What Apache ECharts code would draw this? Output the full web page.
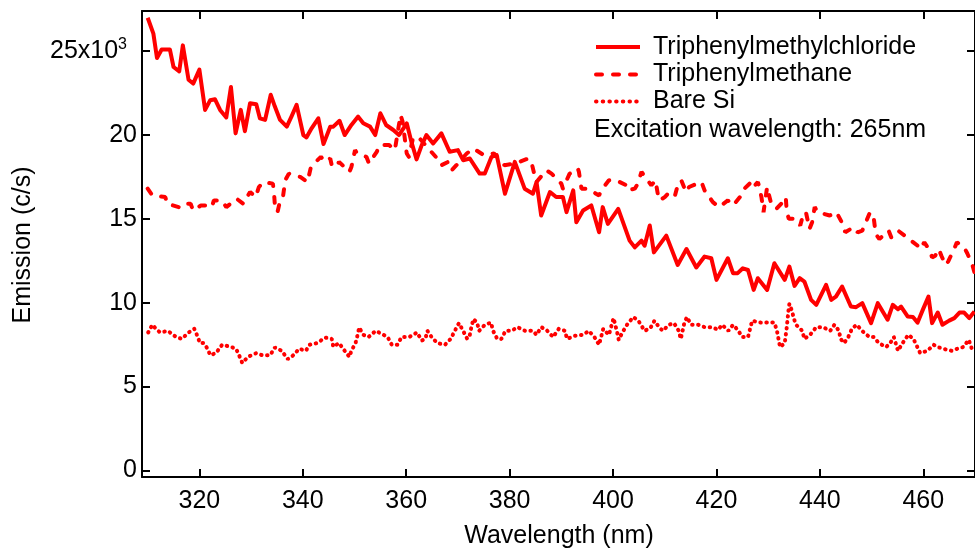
<!DOCTYPE html>
<html>
<head>
<meta charset="utf-8">
<script src="https://cdn.jsdelivr.net/npm/echarts@6/dist/echarts.min.js"></script>
<style>
html,body{margin:0;padding:0;background:#fff;}
#chart{width:975px;height:548px;}
</style>
</head>
<body>
<div id="chart"></div>
<script>
// Wavelength (nm) and emission (x10^3 c/s)
const seriesNames = ['Triphenylmethylchloride', 'Triphenylmethane', 'Bare Si'];
const xTicks = [320, 340, 360, 380, 400, 420, 440, 460];
const yTicks = [0, 5, 10, 15, 20, 25];

const solidWl = [310.0,311.1,311.8,312.7,314.3,315.0,316.1,316.8,317.9,318.8,320.0,321.1,322.1,323.0,324.0,325.2,326.1,327.0,328.0,328.8,329.8,331.0,331.7,332.7,333.8,334.6,335.6,336.9,337.8,338.8,340.1,340.7,341.7,343.0,344.0,345.3,345.9,347.1,348.1,349.4,350.7,351.7,353.0,354.0,355.0,356.1,357.5,358.6,360.1,361.0,362.0,363.0,363.9,365.2,366.8,368.4,370.0,371.0,372.3,374.2,375.2,376.5,377.5,379.1,381.0,382.9,384.5,385.2,386.1,387.8,389.0,390.3,391.0,392.3,392.9,394.2,395.8,397.3,398.0,399.0,401.0,403.2,404.2,405.5,406.1,407.1,407.9,410.3,412.5,414.2,416.1,417.7,419.0,420.0,422.2,423.2,424.1,425.1,426.1,427.2,428.0,429.8,431.2,433.2,434.1,435.1,436.1,437.0,438.3,439.3,441.2,442.2,443.1,444.3,446.0,447.0,448.2,449.9,451.2,453.1,454.1,455.1,455.7,457.0,458.0,458.9,459.9,461.0,461.7,462.8,463.7,465.0,466.0,467.0,467.9,468.9,469.9];
const solidVal = [27.0,26.05,24.6,25.1,25.1,24.06,23.8,25.35,23.3,23.07,23.9,21.5,22.08,22.14,21.5,21.05,22.87,20.1,21.5,20.23,21.9,21.84,21.0,20.9,22.4,21.7,20.9,20.5,21.1,21.8,20.0,19.86,20.4,21.0,19.46,20.5,20.5,20.85,20.0,20.6,21.1,20.7,20.5,20.0,21.3,20.6,20.3,20.0,20.7,19.6,18.55,19.4,20.0,19.5,20.1,19.0,19.1,18.5,18.6,17.7,17.7,18.7,18.8,16.5,18.4,16.8,16.5,17.2,15.2,16.6,16.3,16.3,15.4,16.7,14.8,15.5,15.8,14.2,15.7,14.7,15.6,13.7,13.3,13.7,13.4,14.6,13.0,14.0,12.25,13.2,12.1,12.75,12.65,11.36,12.65,11.76,11.76,12.05,11.95,10.76,11.46,10.76,12.35,11.36,12.15,11.0,11.46,11.26,10.17,9.87,11.06,10.17,10.36,10.96,9.77,9.73,9.97,8.78,9.97,8.98,9.87,9.61,9.77,9.17,9.14,8.81,9.57,10.36,8.78,9.41,8.68,8.93,9.08,9.41,9.41,9.08,9.47];

const dashWl = [310.0,310.9,313.4,313.8,316.0,316.6,318.3,318.8,320.3,321.7,322.4,322.8,324.3,325.2,327.2,328.5,329.8,330.9,331.5,332.4,334.2,334.4,334.6,335.1,335.7,336.2,336.6,337.3,339.5,340.9,341.5,342.2,343.5,344.3,345.3,345.6,346.5,347.0,349.0,349.4,350.1,350.5,352.3,352.8,354.3,354.9,356.7,357.8,358.9,359.3,360.1,360.5,361.3,362.3,364.0,366.0,366.8,368.1,368.8,369.7,371.7,373.0,375.0,377.0,379.0,381.0,383.6,384.2,384.9,385.2,387.1,388.1,390.0,390.3,391.6,392.6,393.2,393.4,393.9,395.0,397.3,397.7,399.2,400.6,402.6,402.9,404.2,404.6,405.1,405.5,407.4,408.2,408.7,409.0,410.0,410.6,411.3,411.9,412.5,413.2,414.1,414.7,417.1,417.7,419.3,420.5,422.2,423.2,424.8,425.4,426.4,426.9,428.0,428.2,428.7,429.1,429.8,430.0,430.6,431.6,432.5,433.4,433.6,434.0,435.3,436.2,436.8,437.3,438.0,438.5,439.0,439.6,441.9,443.2,444.4,444.9,446.5,447.3,448.2,448.9,449.7,450.4,450.8,451.5,453.3,453.8,455.1,456.4,458.9,459.2,459.6,460.2,461.3,461.7,462.3,463.0,463.5,464.3,464.8,466.1,466.5,467.9,468.5,469.5,470.0];
const dashVal = [16.8,16.4,16.3,15.9,15.7,15.9,15.9,15.5,15.8,15.8,15.7,16.1,16.1,15.7,16.2,15.9,16.6,16.3,16.9,17.2,17.1,16.7,15.8,15.4,16.2,16.4,17.3,17.7,17.5,17.2,18.0,18.3,18.7,18.4,18.6,18.2,18.1,18.4,17.8,18.1,19.1,18.9,18.7,18.3,19.0,19.4,19.4,19.1,21.2,20.8,18.9,18.7,19.8,19.9,19.3,18.6,18.2,18.4,17.9,18.2,18.9,19.2,18.8,18.9,18.2,18.3,18.6,18.4,17.5,17.2,17.9,17.7,17.1,16.8,17.7,17.8,18.0,17.8,16.8,16.8,16.4,16.7,17.3,17.3,17.0,16.7,16.8,17.0,17.4,17.8,17.0,17.3,16.4,16.1,16.3,16.5,16.4,16.3,17.0,17.3,16.6,16.9,17.2,16.7,16.0,15.7,16.1,15.8,16.4,16.8,17.1,16.8,17.2,17.0,16.3,15.4,16.9,16.6,15.9,15.6,15.9,16.3,15.4,15.0,15.0,14.6,15.3,15.4,14.4,14.8,15.7,15.4,15.2,15.4,14.7,14.2,14.5,14.2,14.3,14.8,15.4,15.1,14.1,13.8,14.3,13.9,14.3,14.0,13.4,13.2,13.3,13.6,13.1,12.7,12.8,13.2,12.8,12.25,12.45,13.3,13.6,13.3,12.95,12.25,11.7];

const dotWl = [310.1,310.9,311.6,312.4,313.9,315.5,316.6,317.9,319.0,319.6,320.1,320.8,321.5,322.1,323.2,324.4,326.0,327.1,327.8,328.3,329.4,331.0,332.1,333.7,334.6,335.9,337.1,338.2,339.3,340.6,341.3,342.8,344.3,345.6,345.9,347.0,347.8,349.0,349.4,350.2,350.6,350.9,351.7,352.7,354.1,355.6,356.4,357.2,358.3,359.1,360.6,362.1,363.0,363.7,364.1,364.9,366.0,367.5,368.6,369.4,370.2,371.0,371.8,372.3,372.6,373.0,373.7,374.1,375.2,376.4,376.8,377.6,378.4,379.2,380.4,381.5,383.0,384.5,385.2,386.1,387.1,388.4,389.5,390.7,391.1,392.6,394.2,395.3,396.4,397.3,398.1,399.2,400.1,400.8,401.1,401.8,402.7,403.9,404.9,406.1,407.2,408.0,408.9,409.6,410.8,411.8,412.7,413.1,413.8,414.3,415.1,416.5,417.7,419.2,420.3,421.1,422.3,423.2,424.1,425.0,426.1,426.9,428.6,430.1,431.2,431.7,432.3,433.2,433.6,433.9,434.1,434.6,435.0,435.4,436.6,437.0,438.1,439.3,440.6,442.0,442.8,443.7,444.0,444.7,445.5,446.2,447.1,448.5,449.6,450.4,451.4,452.8,453.6,454.3,455.1,456.0,457.1,458.1,459.4,460.8,462.0,462.8,464.1,465.5,466.4,467.7,468.8,469.4];
const dotVal = [8.22,8.68,8.44,8.22,8.32,7.95,7.84,8.22,8.44,8.02,7.59,7.59,7.29,6.87,6.99,7.49,7.37,7.25,6.77,6.4,6.77,6.99,6.87,6.87,7.33,7.13,6.63,6.87,7.25,7.13,7.49,7.59,7.92,7.84,7.37,7.59,7.25,6.77,7.13,7.59,8.08,8.52,8.08,7.95,8.32,8.08,7.95,7.49,7.49,7.95,7.95,8.22,7.74,7.84,8.32,7.95,7.59,7.49,7.84,8.32,8.78,8.32,7.84,8.08,8.54,9.02,8.81,8.32,8.68,8.81,8.32,7.84,7.84,8.32,8.32,8.54,8.32,8.32,8.08,8.54,8.38,7.95,8.44,8.32,7.84,8.02,8.08,8.32,7.95,7.49,8.44,8.08,9.08,8.22,7.78,8.22,8.68,9.14,8.92,8.32,8.48,8.92,8.54,8.32,8.68,8.78,8.32,7.84,8.81,9.14,8.68,8.68,8.54,8.54,8.38,8.68,8.32,8.68,8.38,7.95,7.95,8.92,8.81,8.81,8.81,8.32,7.35,7.59,8.54,9.47,9.93,9.51,9.02,8.68,8.32,7.84,8.08,8.54,8.54,8.32,8.68,8.32,7.84,7.59,7.95,8.44,8.68,8.22,7.95,7.95,7.59,7.35,7.59,7.95,7.13,7.59,8.08,7.84,6.99,7.13,7.49,7.35,7.23,7.13,7.23,7.35,7.78,7.23];

const FONT = '"Liberation Sans", Arial, Helvetica, sans-serif';
const RED = '#ff0000';
const pairs = (xs, ys) => xs.map((x, i) => [x, ys[i]]);

const X_MIN = 308.9, X_MAX = 470, Y_MIN = -0.4, Y_MAX = 27.4;

const styles = [
  { width: 4, type: 'solid', cap: 'butt' },
  { width: 4, type: [6, 11], cap: 'round' },
  { width: 4, type: [0.5, 5.5], cap: 'round' }
];
const legendDash = [null, [6, 11], [0.5, 6.2]];

function xAxisCfg(pos, showLabels) {
  return {
    type: 'value', position: pos, min: X_MIN, max: X_MAX,
    axisLine: { show: true, onZero: false, lineStyle: { color: '#000', width: 2 } },
    axisTick: { show: true, inside: true, length: 8, customValues: xTicks, lineStyle: { color: '#000', width: 2 } },
    axisLabel: { show: showLabels, customValues: xTicks, margin: 12, color: '#000', fontSize: 25, fontFamily: FONT },
    splitLine: { show: false }
  };
}
function yAxisCfg(pos, showLabels) {
  return {
    type: 'value', position: pos, min: Y_MIN, max: Y_MAX,
    axisLine: { show: true, onZero: false, lineStyle: { color: '#000', width: 2 } },
    axisTick: { show: true, inside: true, length: 8, customValues: yTicks, lineStyle: { color: '#000', width: 2 } },
    axisLabel: {
      show: showLabels, customValues: yTicks, margin: 5, color: '#000', fontSize: 25, fontFamily: FONT,
      formatter: v => v === 25 ? '{b|25x10}{s|3}' : String(v),
      rich: {
        b: { fontSize: 25, fontFamily: FONT, color: '#000' },
        s: { fontSize: 16, fontFamily: FONT, color: '#000', verticalAlign: 'top', padding: [0, 10, 14, 0] }
      }
    },
    splitLine: { show: false }
  };
}

// legend drawn as graphic elements (line sample + label)
const legendRowsY = [47, 74.5, 101.5];
const legendGraphics = [];
seriesNames.forEach((name, i) => {
  legendGraphics.push({
    type: 'line', shape: { x1: 596, y1: legendRowsY[i], x2: 640, y2: legendRowsY[i] },
    style: { stroke: RED, lineWidth: styles[i].width, lineDash: legendDash[i], lineCap: styles[i].cap }
  });
  legendGraphics.push({
    type: 'text', x: 653, y: legendRowsY[i],
    style: { text: name, fill: '#000', font: '25px ' + FONT, verticalAlign: 'middle' }
  });
});

const chart = echarts.init(document.getElementById('chart'), null, { renderer: 'canvas' });
chart.setOption({
  animation: false,
  backgroundColor: '#fff',
  grid: { left: 142, top: 11, width: 834, height: 466, containLabel: false },
  xAxis: [xAxisCfg('bottom', true), xAxisCfg('top', false)],
  yAxis: [yAxisCfg('left', true), yAxisCfg('right', false)],
  graphic: legendGraphics.concat([
    { type: 'text', x: 594, y: 130, style: { text: 'Excitation wavelength: 265nm', fill: '#000', font: '25px ' + FONT, verticalAlign: 'middle' } },
    { type: 'text', x: 23, y: 245, rotation: Math.PI / 2, style: { text: 'Emission (c/s)', fill: '#000', font: '25px ' + FONT, align: 'center', verticalAlign: 'middle' } },
    { type: 'text', x: 559, y: 536, style: { text: 'Wavelength (nm)', fill: '#000', font: '25px ' + FONT, align: 'center', verticalAlign: 'middle' } }
  ]),
  series: [
    { name: seriesNames[0], type: 'line', symbol: 'none', data: pairs(solidWl, solidVal),
      lineStyle: { color: RED, width: styles[0].width, type: styles[0].type, join: 'round' } },
    { name: seriesNames[1], type: 'line', symbol: 'none', data: pairs(dashWl, dashVal),
      lineStyle: { color: RED, width: styles[1].width, type: styles[1].type, cap: styles[1].cap } },
    { name: seriesNames[2], type: 'line', symbol: 'none', data: pairs(dotWl, dotVal),
      lineStyle: { color: RED, width: styles[2].width, type: styles[2].type, cap: styles[2].cap } }
  ]
});
</script>
</body>
</html>
